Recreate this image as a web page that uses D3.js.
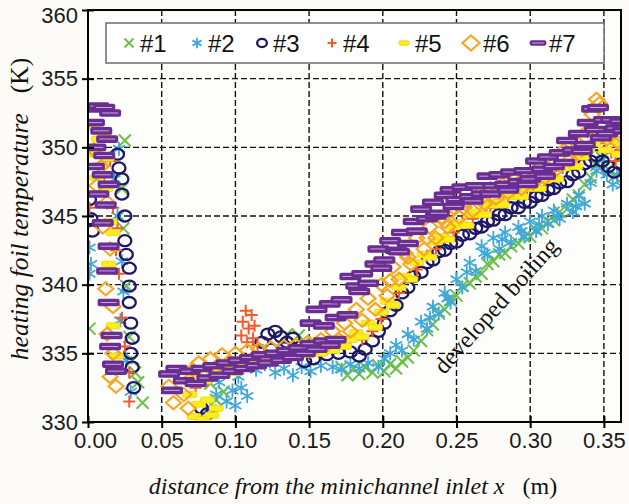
<!DOCTYPE html>
<html>
<head>
<meta charset="utf-8">
<script src="https://cdn.jsdelivr.net/npm/d3@7"></script>
<style>
  body { margin: 0; background: #fcfbf7; }
  svg { display: block; }
  .tick text { font-family: "Liberation Sans", Arial, sans-serif; font-size: 22px; fill: #1a1a1a; }
</style>
</head>
<body>
<div id="chart"></div>
<script>
// axis ticks
const xTicks = [0.00, 0.05, 0.10, 0.15, 0.20, 0.25, 0.30, 0.35]
const yTicks = [330, 335, 340, 345, 350, 355, 360]

// series #1 .. #7, [x (m), T (K)]
const s1 = [[0.025,350.5],[0.023,347.0],[0.024,344.1],[0.026,339.9],[0.001,336.8],[0.028,336.2],[0.030,334.5],[0.032,333.6],[0.034,332.9],[0.037,331.4],
  [0.083,332.8],[0.087,331.6],[0.092,332.2],[0.135,336.4],[0.139,335.9],[0.143,336.3],[0.147,335.8],
  [0.172,334.0],[0.176,333.4],[0.180,333.9],[0.184,333.5],[0.188,334.0],[0.193,333.6],[0.197,334.1],[0.201,333.7],[0.205,334.2],[0.209,333.9],
  [0.213,334.4],[0.217,334.7],[0.221,335.2],[0.226,335.9],[0.230,336.7],[0.234,337.1],[0.238,337.9],[0.242,338.2],[0.246,338.9],[0.250,339.2],
  [0.254,339.9],[0.259,340.1],[0.263,340.6],[0.267,340.8],[0.271,341.5],[0.275,341.7],[0.279,342.2],[0.283,342.3],[0.287,342.8],[0.292,343.0],
  [0.296,343.5],[0.300,343.5],[0.304,344.0],[0.308,344.1],[0.312,344.6],[0.316,344.7],[0.320,345.3],[0.325,345.5],[0.329,346.2],[0.333,346.5],
  [0.337,347.3],[0.341,347.8],[0.345,348.7],[0.349,349.2],[0.353,348.4],[0.357,347.9]]

const s2 = [[0.021,349.9],[0.018,347.7],[0.020,345.0],[0.001,342.7],[0.002,341.5],[0.001,340.8],[0.023,341.7],[0.024,339.5],[0.022,337.4],[0.026,334.5],[0.029,332.2],
  [0.083,331.0],[0.087,332.0],[0.089,332.9],[0.094,331.5],[0.098,332.3],[0.100,331.2],[0.102,333.3],[0.104,332.5],[0.108,331.9],
  [0.114,333.8],[0.120,334.2],[0.127,333.6],[0.133,333.9],[0.139,333.4],[0.145,334.0],[0.151,333.7],[0.158,334.1],
  [0.166,334.0],[0.172,333.8],[0.178,334.2],[0.184,333.9],[0.190,334.3],[0.197,334.0],[0.201,334.6],[0.205,335.0],[0.209,335.6],[0.213,335.2],
  [0.217,336.4],[0.221,336.0],[0.226,337.3],[0.230,336.8],[0.232,337.6],[0.234,338.4],[0.238,337.9],[0.242,339.4],[0.244,339.0],[0.246,338.7],
  [0.250,340.4],[0.254,339.8],[0.257,340.9],[0.259,341.6],[0.263,341.0],[0.267,342.8],[0.269,342.3],[0.271,342.2],[0.275,343.4],[0.279,342.6],
  [0.281,343.3],[0.283,343.8],[0.287,343.1],[0.292,344.2],[0.294,343.9],[0.296,343.5],[0.300,344.6],[0.304,343.9],[0.306,344.4],[0.308,345.0],
  [0.312,344.4],[0.316,345.4],[0.318,345.0],[0.320,344.8],[0.325,345.9],[0.329,345.3],[0.331,345.7],[0.333,346.5],[0.337,345.9],[0.341,347.4],
  [0.345,348.3],[0.349,349.1],[0.352,348.0],[0.356,347.3],[0.359,348.0],[0.362,347.2]]

const s3 = [[0.001,346.2],[0.002,344.8],[0.003,343.9],[0.020,349.5],[0.021,348.5],[0.023,347.7],[0.023,346.6],[0.025,345.0],[0.025,343.2],[0.026,342.2],
  [0.028,341.2],[0.028,339.9],[0.028,338.7],[0.029,337.2],[0.030,336.1],[0.029,335.0],[0.030,334.0],[0.031,332.5],
  [0.077,331.0],[0.081,330.6],[0.118,335.8],[0.122,336.4],[0.124,335.3],[0.127,336.6],[0.131,336.2],[0.133,335.4],[0.135,335.8],[0.139,336.1],
  [0.147,334.4],[0.153,334.6],[0.162,334.9],[0.170,335.0],[0.178,335.1],[0.184,334.8],[0.188,335.3],[0.193,335.9],[0.197,336.6],[0.201,337.2],
  [0.205,338.1],[0.209,338.5],[0.213,339.4],[0.217,339.8],[0.221,340.6],[0.226,340.9],[0.230,341.6],[0.234,341.8],[0.238,342.4],[0.242,342.5],
  [0.246,343.0],[0.250,343.1],[0.254,343.6],[0.259,343.7],[0.263,344.1],[0.267,344.2],[0.271,344.6],[0.275,344.7],[0.279,345.1],[0.283,345.1],
  [0.287,345.6],[0.292,345.6],[0.296,346.0],[0.300,346.0],[0.304,346.4],[0.308,346.5],[0.312,346.9],[0.316,347.0],[0.320,347.4],[0.325,347.5],
  [0.329,348.0],[0.333,348.2],[0.337,348.8],[0.341,349.0],[0.345,349.4],[0.349,349.0],[0.353,348.6],[0.357,348.2],[0.361,348.8]]

const s4 = [[0.015,349.0],[0.011,347.5],[0.001,345.6],[0.017,345.6],[0.020,344.1],[0.019,342.5],[0.021,340.8],[0.023,337.6],[0.025,335.5],[0.028,333.6],[0.028,331.5],
  [0.073,332.5],[0.081,333.0],[0.089,333.6],[0.098,334.0],
  [0.107,338.1],[0.111,337.8],[0.105,337.3],[0.109,336.8],[0.113,337.0],[0.104,336.3],[0.108,335.8],[0.112,336.1],[0.115,335.6],
  [0.120,334.5],[0.129,334.8],[0.137,335.0],[0.145,335.2],[0.153,335.4],[0.162,335.6],[0.170,335.7],[0.178,335.9],[0.186,336.0],[0.193,336.6],
  [0.199,337.5],[0.205,338.6],[0.211,339.4],[0.217,340.5],[0.223,341.1],[0.230,342.1],[0.236,342.6],[0.242,343.4],[0.248,343.8],[0.254,344.5],
  [0.261,344.8],[0.267,345.4],[0.273,345.6],[0.279,346.2],[0.285,346.3],[0.292,346.9],[0.298,347.0],[0.304,347.6],[0.310,347.7],[0.316,348.3],
  [0.322,348.5],[0.329,349.1],[0.335,349.4],[0.341,350.3],[0.347,350.8],[0.351,350.3],[0.355,349.6],[0.358,349.0],[0.361,349.8]]

const s5 = [[0.003,351.5],[0.007,350.6],[0.011,351.0],[0.005,349.5],[0.009,348.7],[0.013,349.2],[0.006,347.8],[0.012,347.0],[0.015,344.6],[0.017,343.8],[0.014,341.5],[0.017,337.0],[0.019,334.8],
  [0.069,332.0],[0.072,330.4],[0.075,331.3],[0.078,330.2],[0.081,331.6],[0.084,330.5],[0.087,331.0],[0.073,333.4],[0.079,333.0],[0.085,333.7],
  [0.092,333.4],[0.096,334.1],[0.100,333.6],[0.104,334.4],[0.108,333.9],[0.112,334.6],[0.116,334.1],[0.120,334.8],[0.124,334.3],[0.129,335.0],
  [0.133,334.5],[0.137,335.1],[0.141,334.7],[0.145,335.3],[0.149,334.9],[0.153,335.4],[0.158,335.0],[0.162,335.6],[0.166,335.2],[0.170,335.8],
  [0.174,335.5],[0.178,336.0],[0.182,336.5],[0.186,336.2],[0.190,337.2],[0.195,336.9],[0.199,338.0],[0.203,338.8],[0.207,338.5],[0.211,339.8],
  [0.215,340.6],[0.219,340.4],[0.223,341.6],[0.228,342.2],[0.232,342.0],[0.236,343.1],[0.240,343.5],[0.244,343.3],[0.248,344.2],[0.252,344.5],
  [0.257,344.3],[0.261,345.1],[0.265,345.3],[0.269,345.1],[0.273,345.8],[0.277,346.0],[0.281,345.8],[0.285,346.4],[0.290,346.6],[0.294,346.4],
  [0.298,347.0],[0.302,347.2],[0.306,347.0],[0.310,347.6],[0.314,347.9],[0.318,347.7],[0.323,348.5],[0.327,348.8],[0.331,348.6],[0.335,349.3],
  [0.339,349.8],[0.343,350.3],[0.347,351.0],[0.351,349.8],[0.355,350.4],[0.360,349.5],[0.363,350.1]]

const s6 = [[0.004,349.8],[0.009,348.6],[0.006,347.2],[0.013,346.0],[0.010,344.2],[0.015,342.6],[0.012,339.7],[0.017,338.4],[0.013,336.4],[0.017,335.0],[0.015,333.3],[0.019,332.6],
  [0.055,332.6],[0.058,331.4],[0.062,333.4],[0.065,332.0],[0.068,331.0],[0.071,333.8],[0.075,334.3],[0.079,333.6],[0.083,334.6],[0.087,334.0],
  [0.091,334.9],[0.096,334.2],[0.100,335.0],[0.104,334.4],[0.108,335.2],[0.112,334.6],[0.116,335.3],[0.120,334.7],[0.124,335.4],[0.129,334.8],
  [0.133,335.5],[0.137,335.0],[0.141,335.6],[0.145,335.1],[0.149,335.8],[0.153,335.3],[0.158,336.0],[0.162,335.6],[0.166,336.6],[0.170,336.0],
  [0.174,337.2],[0.178,336.6],[0.182,338.2],[0.186,337.4],[0.190,339.0],[0.195,338.2],[0.199,340.0],[0.203,339.2],[0.205,340.3],[0.207,341.3],
  [0.211,340.4],[0.215,342.3],[0.217,342.0],[0.219,341.5],[0.223,343.4],[0.228,342.6],[0.230,343.4],[0.232,344.2],[0.236,343.4],[0.240,344.9],
  [0.242,344.6],[0.244,344.2],[0.248,345.6],[0.252,344.9],[0.255,345.6],[0.257,346.1],[0.261,345.4],[0.265,346.6],[0.267,346.3],[0.269,345.9],
  [0.273,347.0],[0.277,346.3],[0.279,346.9],[0.281,347.3],[0.285,346.7],[0.290,347.7],[0.292,347.4],[0.294,347.0],[0.298,348.0],[0.302,347.4],
  [0.304,348.0],[0.306,348.5],[0.310,347.8],[0.314,349.1],[0.316,348.8],[0.318,348.4],[0.323,349.8],[0.327,349.1],[0.329,349.7],[0.331,350.4],
  [0.335,349.8],[0.339,351.2],[0.342,352.4],[0.345,353.5],[0.347,353.2],[0.349,351.5],[0.352,350.6],[0.355,351.0],[0.359,350.4],[0.362,350.8]]

const s7 = [[0.003,352.8],[0.007,353.0],[0.011,352.9],[0.015,352.5],[0.004,351.8],[0.009,351.2],[0.013,350.6],[0.005,350.0],[0.011,349.4],[0.004,348.6],
  [0.010,348.0],[0.014,347.3],[0.007,346.6],[0.012,345.8],[0.010,344.5],[0.014,342.8],[0.013,341.0],[0.014,338.7],[0.016,336.3],[0.015,335.5],[0.017,334.2],[0.019,333.7],
  [0.055,333.5],[0.057,332.3],[0.060,333.9],[0.065,333.0],[0.069,333.7],[0.073,332.8],[0.077,333.9],[0.081,333.2],[0.085,334.1],[0.089,333.4],
  [0.094,334.3],[0.098,333.7],[0.102,334.5],[0.106,333.9],[0.110,334.7],[0.114,334.1],[0.118,334.9],[0.122,334.3],[0.127,335.0],[0.131,334.5],
  [0.135,335.2],[0.139,334.7],[0.143,335.4],[0.147,335.0],[0.151,335.7],[0.155,335.3],[0.160,335.9],[0.164,335.6],[0.168,336.0],
  [0.151,337.2],[0.155,338.2],[0.160,337.0],[0.164,338.6],[0.168,337.6],[0.172,338.9],[0.176,337.8],[0.178,340.6],[0.182,339.9],[0.184,339.5],
  [0.186,340.8],[0.190,340.1],[0.195,341.5],[0.197,342.6],[0.199,341.2],[0.201,341.8],[0.205,343.2],[0.209,342.5],[0.211,342.4],[0.213,343.8],
  [0.217,343.0],[0.221,344.6],[0.223,343.9],[0.226,345.5],[0.230,344.8],[0.234,346.0],[0.236,345.0],[0.238,345.2],[0.242,346.5],[0.246,346.9],
  [0.248,345.7],[0.250,346.2],[0.254,347.1],[0.259,346.4],[0.261,346.1],[0.263,347.2],[0.267,346.6],[0.271,347.9],[0.273,346.6],[0.275,347.2],
  [0.279,348.0],[0.283,347.3],[0.285,346.9],[0.287,348.2],[0.292,347.5],[0.296,348.3],[0.298,347.3],[0.300,347.7],[0.304,349.0],[0.308,348.4],
  [0.310,347.9],[0.312,349.3],[0.316,348.6],[0.320,349.6],[0.323,348.9],[0.325,350.5],[0.329,349.8],[0.333,351.0],[0.335,349.7],[0.337,350.2],
  [0.339,351.8],[0.342,352.8],[0.344,351.3],[0.346,352.9],[0.348,350.7],[0.350,352.0],[0.352,351.0],[0.355,352.0],[0.358,351.4],[0.361,351.9],[0.363,351.2]]

const names = ['#1', '#2', '#3', '#4', '#5', '#6', '#7']
const seriesData = [s1, s2, s3, s4, s5, s6, s7]

const W = 629, H = 504
const L = 88, R = 621, T = 10, B = 422
const svg = d3.select('#chart').append('svg').attr('width', W).attr('height', H)

// 0.35 sits a bit inside the right frame
const x = d3.scaleLinear().domain([0, 0.3616]).range([L, R])
const y = d3.scaleLinear().domain([330, 360]).range([B, T])

svg.append('rect').attr('x', L).attr('y', T).attr('width', R - L).attr('height', B - T).attr('fill', '#fdfdfb')

// dashed grid
svg.append('g').selectAll('line').data(xTicks.slice(1)).join('line')
  .attr('x1', d => x(d)).attr('x2', d => x(d)).attr('y1', T).attr('y2', B)
  .attr('stroke', '#111').attr('stroke-width', 1.4).attr('stroke-dasharray', '6,3')
svg.append('g').selectAll('line').data(yTicks.slice(1, -1)).join('line')
  .attr('y1', d => y(d)).attr('y2', d => y(d)).attr('x1', L).attr('x2', R)
  .attr('stroke', '#111').attr('stroke-width', 1.4).attr('stroke-dasharray', '6,3')

// marker styles
const styles = [
  { draw: (g, k) => g.append('path').attr('d', `M${-6*k},${-6*k}L${6*k},${6*k}M${-6*k},${6*k}L${6*k},${-6*k}`).attr('stroke', '#6dbf4a').attr('stroke-width', 2).attr('fill', 'none') },
  { draw: (g, k) => g.append('path').attr('d', `M0,${-7*k}L0,${7*k}M${-6*k},${-3.5*k}L${6*k},${3.5*k}M${-6*k},${3.5*k}L${6*k},${-3.5*k}`).attr('stroke', '#3ea8dc').attr('stroke-width', 1.8).attr('fill', 'none') },
  { draw: (g, k) => g.append('ellipse').attr('rx', 6.5*k).attr('ry', 5.5*k).attr('stroke', '#1d1766').attr('stroke-width', 2.3).attr('fill', 'none') },
  { draw: (g, k) => g.append('path').attr('d', `M${-6*k},0L${6*k},0M0,${-6*k}L0,${6*k}`).attr('stroke', '#f15a2b').attr('stroke-width', 2).attr('fill', 'none') },
  { draw: (g, k) => g.append('rect').attr('x', -7*k).attr('y', -3*k).attr('width', 14*k).attr('height', 6*k).attr('rx', 1.5).attr('fill', '#fbee1a').attr('stroke', '#e9d60e').attr('stroke-width', 0.8) },
  { draw: (g, k) => g.append('path').attr('d', `M0,${-6.5*k}L${7.5*k},0L0,${6.5*k}L${-7.5*k},0Z`).attr('stroke', '#f7a823').attr('stroke-width', 2.2).attr('fill', 'none') },
  { draw: (g, k) => {
      g.append('rect').attr('x', -11*k).attr('y', -3.8*k).attr('width', 22*k).attr('height', 7.6*k).attr('rx', 2).attr('fill', '#6a2d91')
      g.append('line').attr('x1', -8*k).attr('x2', 8*k).attr('stroke', '#c8a9df').attr('stroke-width', 1)
    } }
]

svg.append('clipPath').attr('id', 'plotclip').append('rect').attr('x', L).attr('y', T).attr('width', R - L).attr('height', B - T)
const plot = svg.append('g').attr('clip-path', 'url(#plotclip)')

seriesData.forEach((data, i) => {
  plot.append('g').selectAll('g').data(data).join('g')
    .attr('transform', d => `translate(${x(d[0])},${y(d[1])})`)
    .each(function() { styles[i].draw(d3.select(this), 1) })
})

// frame
svg.append('rect').attr('x', L).attr('y', T).attr('width', R - L).attr('height', B - T)
  .attr('fill', 'none').attr('stroke', '#000').attr('stroke-width', 2)

// axes
const xAxis = svg.append('g').attr('transform', `translate(0,${B})`)
  .call(d3.axisBottom(x).tickValues(xTicks).tickFormat(d3.format('.2f')).tickSize(6).tickPadding(4))
xAxis.select('.domain').remove()
xAxis.selectAll('.tick line').attr('y1', -6).attr('stroke', '#000').attr('stroke-width', 2)
xAxis.selectAll('.tick text').filter(d => d === 0).attr('dx', 7)

const yAxis = svg.append('g').attr('transform', `translate(${L},0)`)
  .call(d3.axisLeft(y).tickValues(yTicks).tickSize(6).tickPadding(4))
yAxis.select('.domain').remove()
yAxis.selectAll('.tick line').attr('x1', 6).attr('stroke', '#000').attr('stroke-width', 2)
yAxis.selectAll('.tick text').filter(d => d === 360).attr('dy', '0.55em')

// axis titles
const serif = '"Liberation Serif", "Times New Roman", serif'
const yt = svg.append('text').attr('transform', 'translate(28,209) rotate(-90)')
  .attr('text-anchor', 'middle').style('font-family', serif).style('font-size', '25.5px').attr('fill', '#111')
yt.append('tspan').style('font-style', 'italic').text('heating foil temperature')
yt.append('tspan').attr('dx', 20).text('(K)')

const xt = svg.append('text').attr('x', 353).attr('y', 494)
  .attr('text-anchor', 'middle').style('font-family', serif).style('font-size', '24px').attr('fill', '#111')
xt.append('tspan').style('font-style', 'italic').text('distance from the minichannel inlet x')
xt.append('tspan').attr('dx', 18).text('(m)')

// annotation
svg.append('text').attr('transform', 'translate(502,311) rotate(-48)')
  .attr('text-anchor', 'middle').style('font-family', serif).style('font-size', '24px').attr('fill', '#111')
  .text('developed boiling')

// legend
const leg = svg.append('g')
leg.append('rect').attr('x', 106).attr('y', 23).attr('width', 498).attr('height', 40)
  .attr('fill', '#fff').attr('stroke', '#6b6b6b').attr('stroke-width', 1.5)
const legX = [129, 197, 262, 332, 404, 471, 538]
names.forEach((n, i) => {
  const g = leg.append('g').attr('transform', `translate(${legX[i]},43)`)
  styles[i].draw(g, i === 5 ? 1.15 : 0.75)
  g.append('text').attr('x', i === 5 ? 12 : 11).attr('y', 9).style('font-family', '"Liberation Sans", Arial, sans-serif')
    .style('font-size', '24px').attr('fill', '#111').text(n)
})
</script>
</body>
</html>
